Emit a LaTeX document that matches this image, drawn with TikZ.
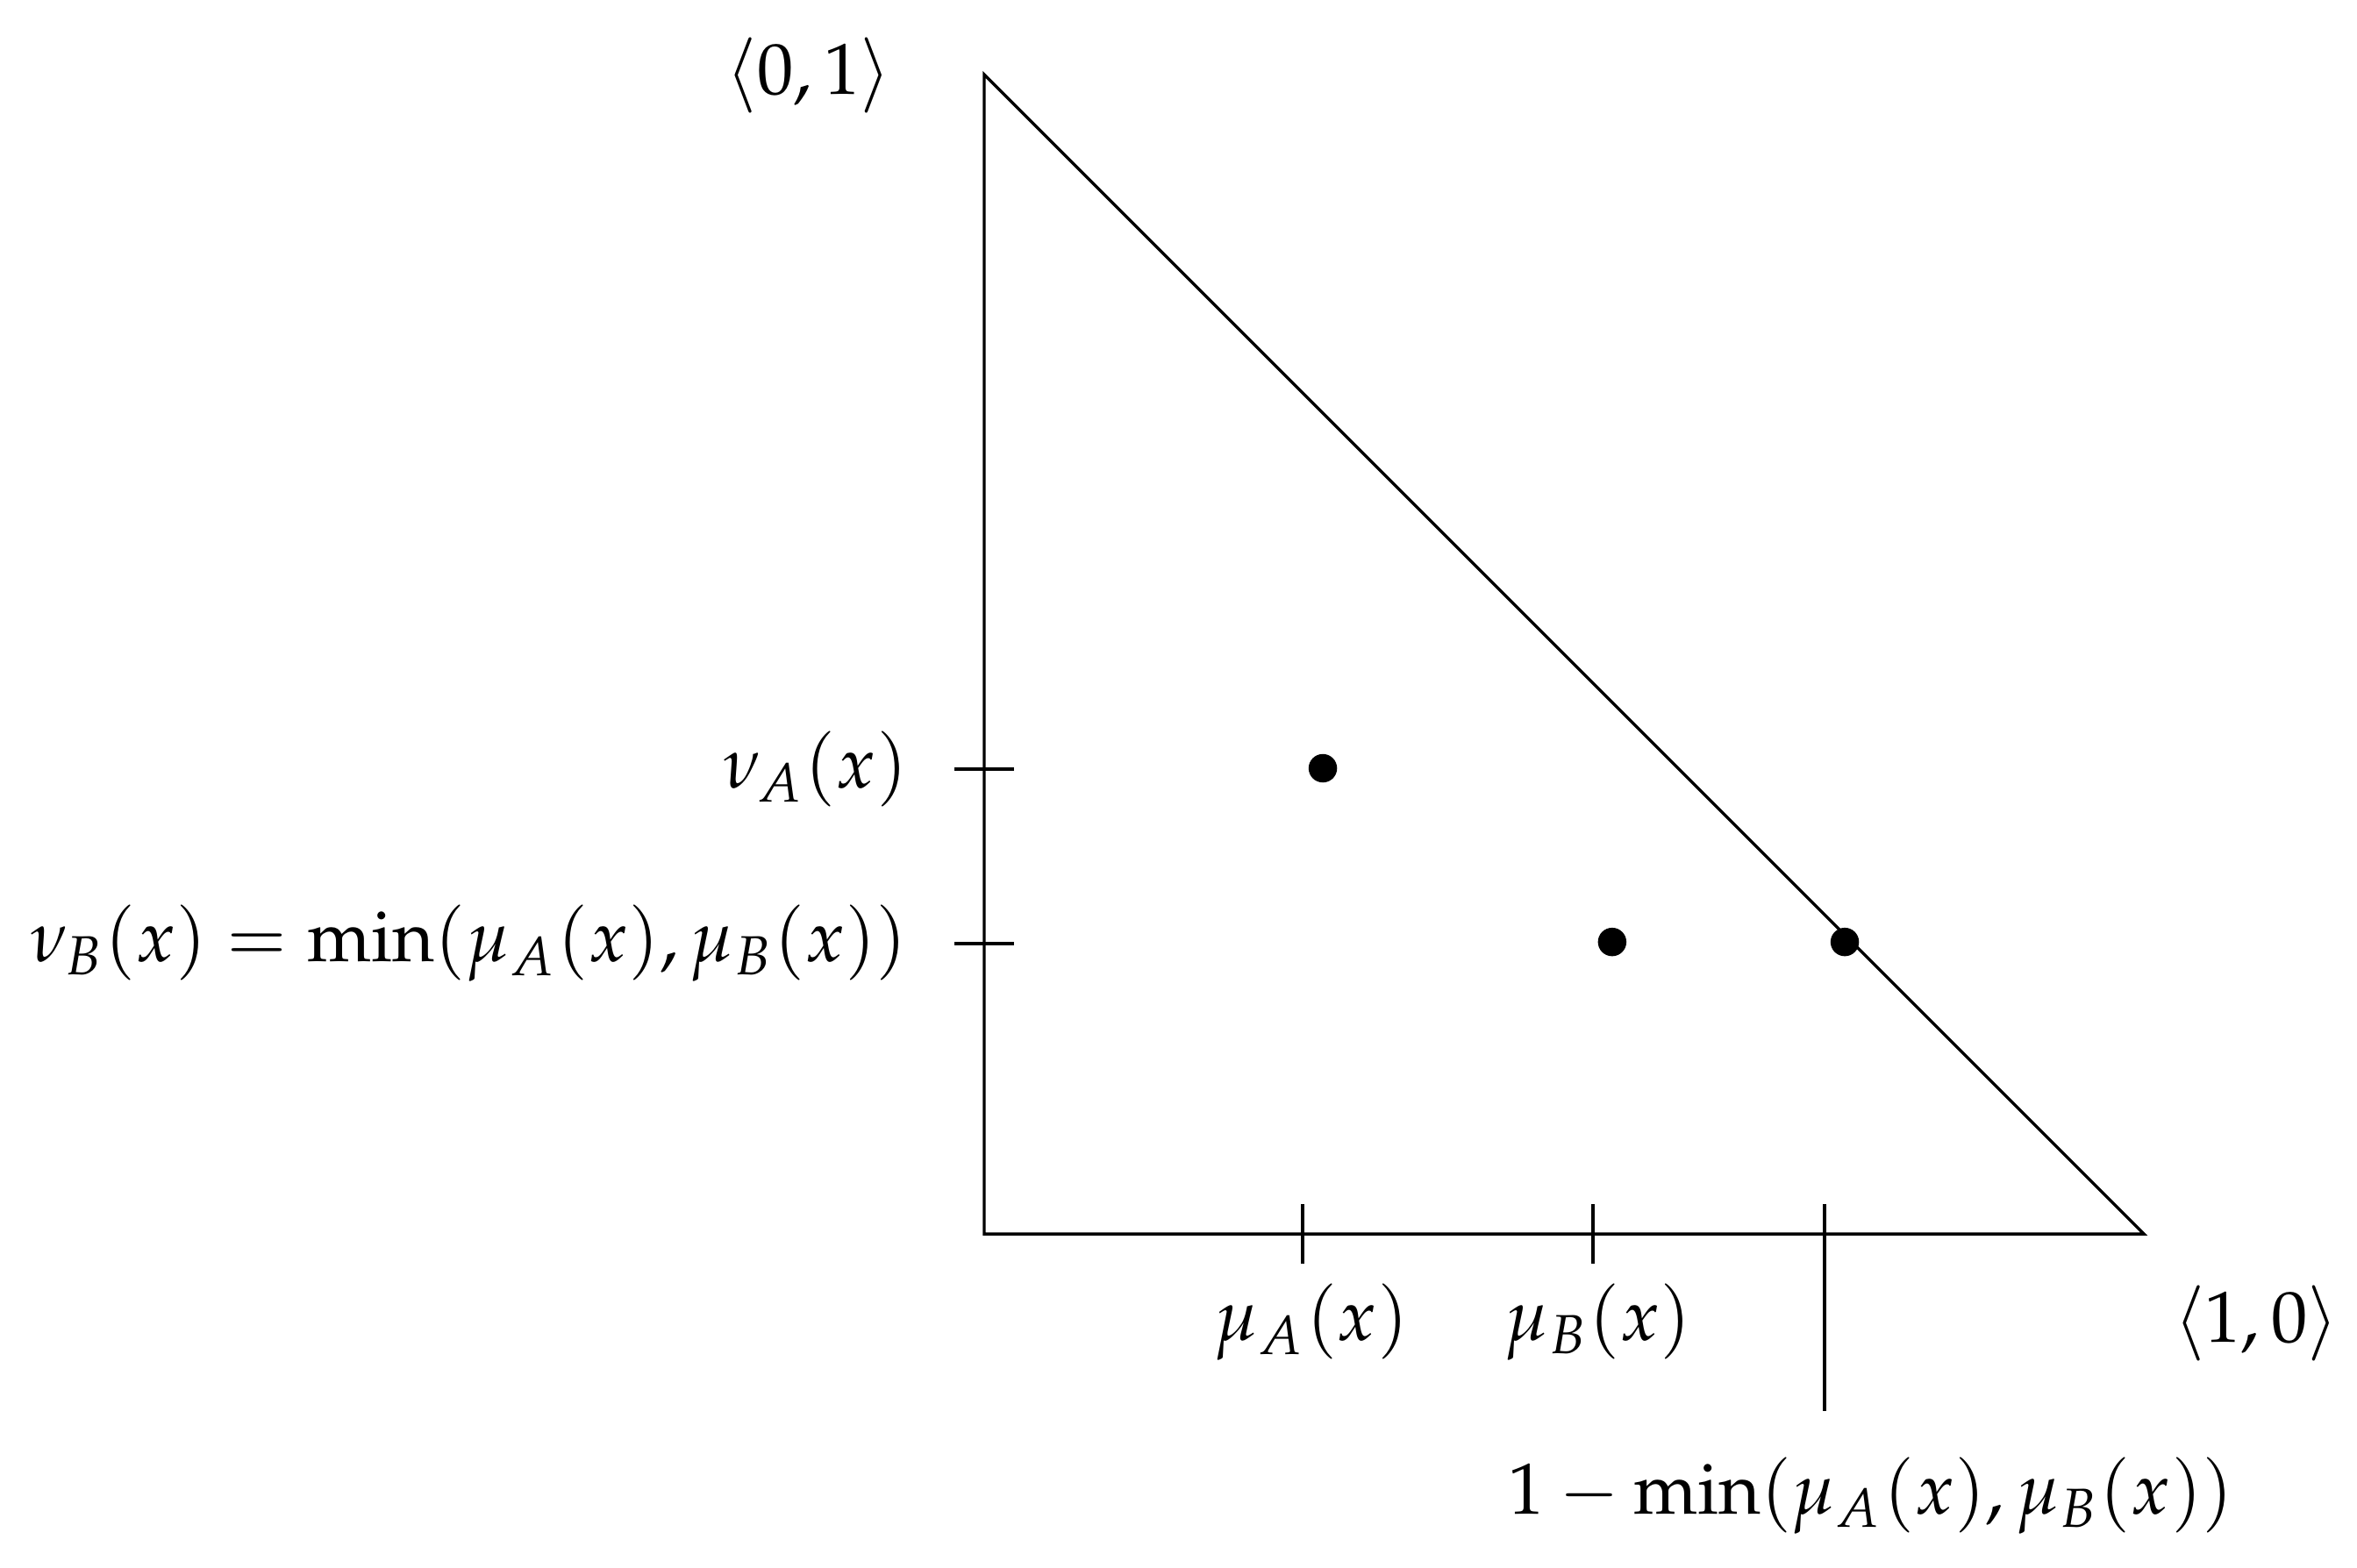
\documentclass[tikz,border=0pt]{standalone}
\usepackage{mathpazo}
\usetikzlibrary{positioning, calc}
\tikzset{
  my dot/.style={circle,fill=black,inner sep=0,minimum size=1.35mm},
  my tick/.style={line width=0.4pt},
  my label/.style={inner sep=0pt,font=\fontsize{9.78}{12}\selectfont}
}

\begin{document}
\begin{tikzpicture}
\useasboundingbox (-4.667,-1.581) rectangle (6.510,5.853);

% corners of the triangle
\coordinate (O) at (0,0);
\coordinate (N) at (0,5.5);
\coordinate (M) at (5.5,0);
\draw (N) -- (O) -- (M) -- cycle;

\node[my label] (n01) at (-0.832,5.495) {$\langle 0,1\rangle$};
\node[my label] (n10) at (6.032,-0.424) {$\langle 1,0\rangle$};

% ticks on the vertical side
\foreach\y/\n in {2.205/nuA,1.377/nuB}
  \draw[my tick] (-0.14,\y) coordinate (\n l) -- (0.14,\y) coordinate (\n r);
\node[my label,anchor=east] (lnuA) at (-0.357,2.205) {$\nu_A(x)$};
\node[my label,anchor=east] (lnuB) at (-0.357,1.377)
  {$\nu_B(x)=\min(\mu_A(x),\mu_B(x))$};

% ticks on the horizontal side
\foreach\x/\n in {1.51/muA,2.887/muB}
  \draw[my tick] (\x,0.14) coordinate (\n t) -- (\x,-0.14) coordinate (\n b);
\draw[my tick] (3.985,0.14) coordinate (cot) -- (3.985,-0.84) coordinate (cob);
\node[my label] (lmuA) at (1.552,-0.42) {$\mu_A(x)$};
\node[my label] (lmuB) at (2.912,-0.42) {$\mu_B(x)$};
\node[my label] (lco) at (4.205,-1.24) {$1-\min(\mu_A(x),\mu_B(x))$};

% points
\node[my dot] (pA) at (1.606,2.209) {};
\node[my dot] (pB) at (2.978,1.385) {};
\node[my dot] (pC) at (4.081,1.385) {};
\end{tikzpicture}
\end{document}
